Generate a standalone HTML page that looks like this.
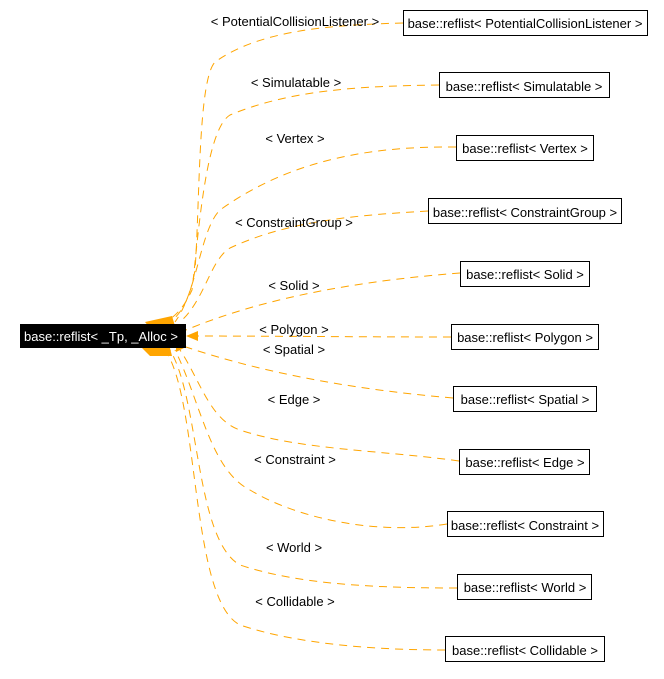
<!DOCTYPE html>
<html><head><meta charset="utf-8"><style>
html,body{margin:0;padding:0;background:#fff;}
svg{display:block;}
text{font-family:"Liberation Sans",sans-serif;font-size:13px;fill:#000;}
</style></head><body>
<svg width="664" height="679" viewBox="0 0 664 679" xmlns="http://www.w3.org/2000/svg">
<g fill="none" stroke="#ffa500" stroke-width="1" stroke-dasharray="8,6">
<path d="M403,23 C330,25 260,30 215,62 C198,80 200,200 195,270 C190,300 180,315 170,322"/>
<path d="M439,85 C360,86 290,90 230,115 C205,130 198,240 192,290 C185,305 178,315 165,322"/>
<path d="M456,147 C370,146 290,160 220,210 C200,230 198,290 175,322"/>
<path d="M428,211 C360,215 290,220 230,248 C210,260 205,300 180,322"/>
<path d="M460,273 C370,280 270,295 186,330"/>
<path d="M451,337 C360,337 270,336 186,336"/>
<path d="M453,398 C360,390 270,375 186,347"/>
<path d="M459,461 C380,450 300,450 240,430 C210,420 200,380 180,350"/>
<path d="M447,524 C380,535 300,520 250,490 C210,470 200,400 175,350"/>
<path d="M457,588 C380,588 300,585 240,565 C195,540 200,400 170,350"/>
<path d="M445,650 C380,650 300,645 240,625 C190,600 200,400 165,350"/>
</g>
<g fill="#ffa500">
<polygon points="186,330 174,327 175,337"/>
<polygon points="186,336 198,331 198,341"/>
<polygon points="186,347 176,343 176,352"/>
<polygon points="145,322 172,316 175,326 150,328"/>
<polygon points="142,348 170,348 172,356 150,356"/>
</g>
<rect x="20" y="324" width="166" height="24" fill="#000"/>
<text x="24" y="341" style="fill:#fff">base::reflist&lt; _Tp, _Alloc &gt;</text>
<g fill="#fff" stroke="#000" stroke-width="1">
<rect x="403.5" y="10.5" width="244" height="25"/>
<rect x="439.5" y="72.5" width="170" height="25"/>
<rect x="456.5" y="135.5" width="137" height="25"/>
<rect x="428.5" y="198.5" width="193" height="25"/>
<rect x="460.5" y="261.5" width="129" height="25"/>
<rect x="451.5" y="324.5" width="147" height="25"/>
<rect x="453.5" y="386.5" width="143" height="25"/>
<rect x="459.5" y="449.5" width="130" height="25"/>
<rect x="447.5" y="511.5" width="156" height="25"/>
<rect x="457.5" y="574.5" width="134" height="25"/>
<rect x="445.5" y="636.5" width="159" height="25"/>
</g>
<g text-anchor="middle">
<text x="525" y="28">base::reflist&lt; PotentialCollisionListener &gt;</text>
<text x="524" y="91">base::reflist&lt; Simulatable &gt;</text>
<text x="525" y="153">base::reflist&lt; Vertex &gt;</text>
<text x="525" y="217">base::reflist&lt; ConstraintGroup &gt;</text>
<text x="525" y="279">base::reflist&lt; Solid &gt;</text>
<text x="525" y="342">base::reflist&lt; Polygon &gt;</text>
<text x="525" y="404">base::reflist&lt; Spatial &gt;</text>
<text x="525" y="467">base::reflist&lt; Edge &gt;</text>
<text x="525" y="530">base::reflist&lt; Constraint &gt;</text>
<text x="525" y="592">base::reflist&lt; World &gt;</text>
<text x="525" y="655">base::reflist&lt; Collidable &gt;</text>
<text x="295" y="26">&lt; PotentialCollisionListener &gt;</text>
<text x="296" y="87">&lt; Simulatable &gt;</text>
<text x="295" y="143">&lt; Vertex &gt;</text>
<text x="294" y="227">&lt; ConstraintGroup &gt;</text>
<text x="294" y="290">&lt; Solid &gt;</text>
<text x="294" y="334">&lt; Polygon &gt;</text>
<text x="294" y="354">&lt; Spatial &gt;</text>
<text x="294" y="404">&lt; Edge &gt;</text>
<text x="295" y="464">&lt; Constraint &gt;</text>
<text x="294" y="552">&lt; World &gt;</text>
<text x="295" y="606">&lt; Collidable &gt;</text>
</g>
</svg>
</body></html>
